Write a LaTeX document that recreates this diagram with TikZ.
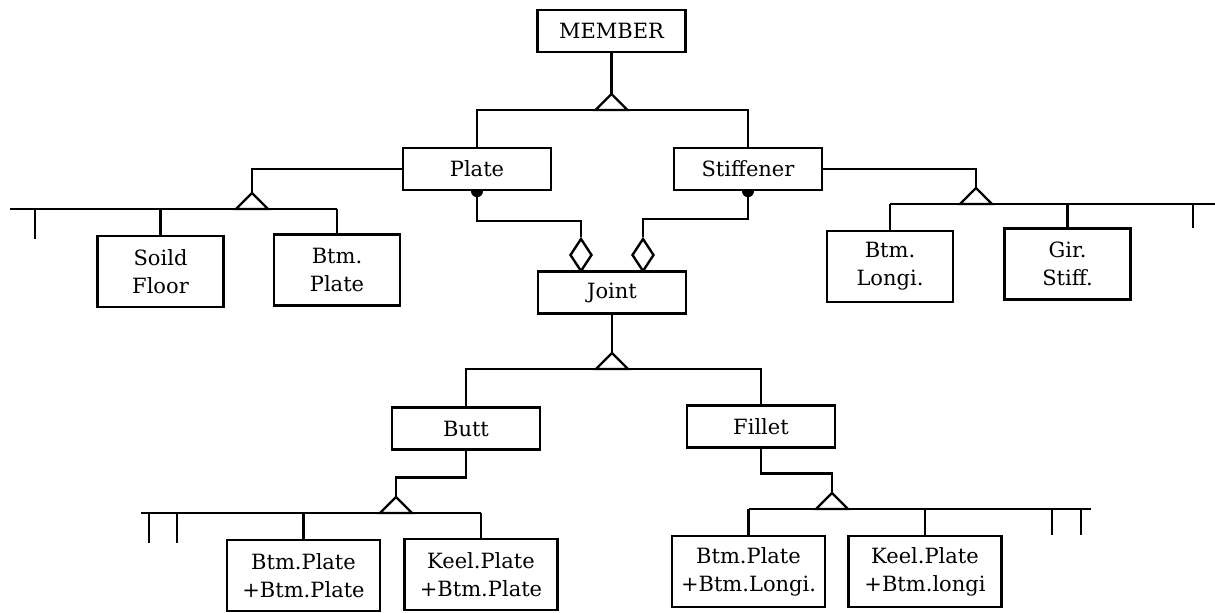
\documentclass[tikz,border=0pt]{standalone}
\usepackage{fontspec}
\setmainfont{DejaVu Serif}
\usepackage{tikz}
\usetikzlibrary{shapes,shapes.geometric}

\tikzset{
  entity/.style={draw, rectangle, line width=1.2pt, inner sep=0pt,
    minimum width=74pt, minimum height=21pt, font=\fontsize{10.5}{14}\selectfont},
  part/.style={entity, align=center, minimum width=63pt, minimum height=35.5pt},
  pair/.style={part, minimum width=76.5pt},
  link/.style={line width=1.2pt},
  agg/.style={draw, diamond, line width=1.2pt, inner sep=0pt,
    minimum width=11pt, minimum height=16.5pt}
}
\newcommand{\IsaMark}[1]{\draw[link] (#1) -- ++(-16,16) -- ++(32,0) -- cycle;}
\newcommand{\OwnDot}[1]{\fill (#1) ++(-3pt,0) arc[start angle=180,end angle=360,radius=3pt] -- cycle;}

\begin{document}
\begin{tikzpicture}[x=0.5pt,y=-0.5pt]
  \useasboundingbox (0,0) rectangle (1215,613);
  \node[entity] (member) at (611.5,31) {MEMBER};
  \node[entity] (plate) at (477,169) {Plate};
  \node[entity] (stiffener) at (748,169) {Stiffener};
  \node[entity] (joint) at (612,292.5) {Joint};
  \node[entity] (butt) at (466,428.5) {Butt};
  \node[entity] (fillet) at (761,426.5) {Fillet};
    \node[part] (floor) at (160.5,271.5) {Soild\\Floor};
    \node[part] (btmplate) at (337,270) {Btm.\\Plate};
    \node[part] (btmlongi) at (890,266.5) {Btm.\\Longi.};
    \node[part] (girstiff) at (1067.5,264) {Gir.\\Stiff.};
    \node[pair] (bpbp) at (303.5,575.5) {Btm.Plate\\+Btm.Plate};
    \node[pair] (kpbp) at (481,574.5) {Keel.Plate\\+Btm.Plate};
    \node[pair] (bpbl) at (748.5,571.5) {Btm.Plate\\+Btm.Longi.};
    \node[pair] (kpbl) at (925,571.5) {Keel.Plate\\+Btm.longi};
  \node[agg] (aggplate) at (581,255) {};
  \node[agg] (aggstiff) at (643,255) {};

  \coordinate (isamember) at (611.5,94);
  \coordinate (isaplate) at (252,193);
  \coordinate (isastiff) at (976,188);
  \coordinate (isajoint) at (612,353);
  \coordinate (isabutt) at (396,497);
  \coordinate (isafillet) at (832,493);
  \path (isamember) ++(0,16) coordinate (busmember)
        (isaplate) ++(0,16) coordinate (busplate)
        (isastiff) ++(0,16) coordinate (busstiff)
        (isajoint) ++(0,16) coordinate (busjoint)
        (isabutt) ++(0,16) coordinate (busbutt)
        (isafillet) ++(0,16) coordinate (busfillet);
  \coordinate (plateend) at (10,209);
  \coordinate (platestub) at (35,239);
  \coordinate (stiffend) at (1215,204);
  \coordinate (stiffstub) at (1193,228);
  \coordinate (buttend) at (141,513);
  \coordinate (buttstuba) at (149,543);
  \coordinate (buttstubb) at (177,543);
  \coordinate (filletend) at (1091,509);
  \coordinate (filletstuba) at (1052,535);
  \coordinate (filletstubb) at (1081,535);

  \draw[link] (member) -- (isamember);
  \draw[link] (plate) |- (busmember) -| (stiffener);

  \draw[link] (plate.west) -| (isaplate);
  \draw[link] (plateend) -- (btmplate |- busplate);
  \draw[link] (floor) -- (floor |- busplate);
  \draw[link] (btmplate) -- (btmplate |- busplate);
  \draw[link] (platestub) -- (platestub |- busplate);

  \draw[link] (stiffener.east) -| (isastiff);
  \draw[link] (btmlongi |- busstiff) -- (stiffend);
  \draw[link] (btmlongi) -- (btmlongi |- busstiff);
  \draw[link] (girstiff) -- (girstiff |- busstiff);
  \draw[link] (stiffstub) -- (stiffstub |- busstiff);

  \draw[link] (plate.south) -- ++(0,30) -| (aggplate);
  \draw[link] (stiffener.south) -- ++(0,28) -| (aggstiff);
  \OwnDot{plate.south}
  \OwnDot{stiffener.south}

  \draw[link] (joint) -- (isajoint);
  \draw[link] (butt) |- (busjoint) -| (fillet);

  \draw[link] (butt.south) -- ++(0,27) -| (isabutt);
  \draw[link] (buttend) -- (kpbp |- busbutt);
  \draw[link] (bpbp) -- (bpbp |- busbutt);
  \draw[link] (kpbp) -- (kpbp |- busbutt);
  \draw[link] (buttstuba) -- (buttstuba |- busbutt);
  \draw[link] (buttstubb) -- (buttstubb |- busbutt);

  \draw[link] (fillet.south) -- ++(0,25) -| (isafillet);
  \draw[link] (bpbl |- busfillet) -- (filletend);
  \draw[link] (bpbl) -- (bpbl |- busfillet);
  \draw[link] (kpbl) -- (kpbl |- busfillet);
  \draw[link] (filletstuba) -- (filletstuba |- busfillet);
  \draw[link] (filletstubb) -- (filletstubb |- busfillet);

  \IsaMark{isamember}
  \IsaMark{isaplate}
  \IsaMark{isastiff}
  \IsaMark{isajoint}
  \IsaMark{isabutt}
  \IsaMark{isafillet}
\end{tikzpicture}
\end{document}
